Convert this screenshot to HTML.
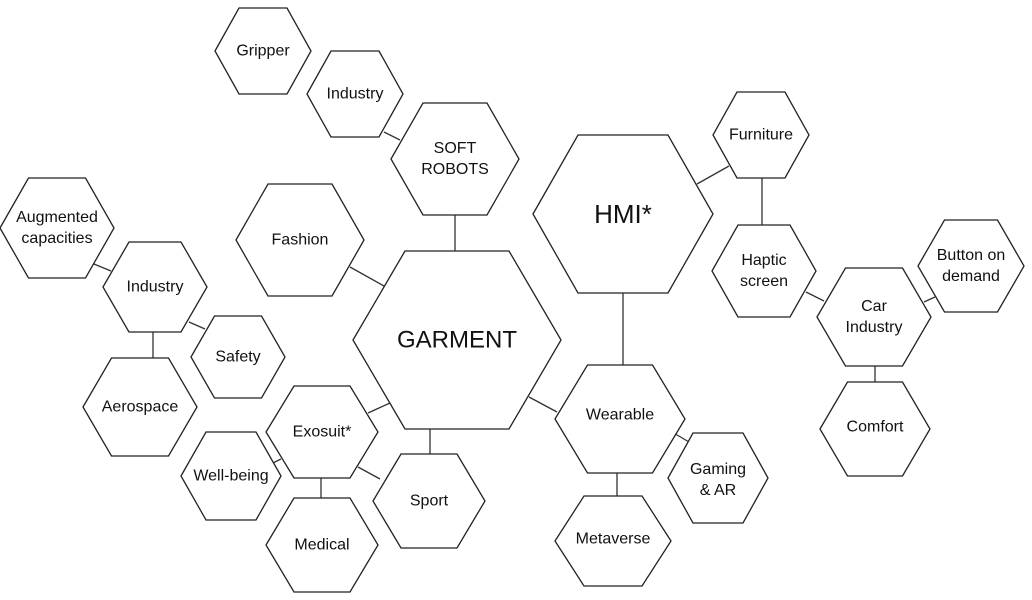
<!DOCTYPE html>
<html><head><meta charset="utf-8"><style>
html,body{margin:0;padding:0;background:#fff;}
svg{display:block;}
text{font-family:"Liberation Sans",sans-serif;fill:#111;text-anchor:middle;dominant-baseline:central;}
</style></head><body>
<svg id="s" width="1032" height="600" viewBox="0 0 1032 600" xmlns="http://www.w3.org/2000/svg">
<g stroke="#333" stroke-width="1.3" fill="none">
<line x1="455" y1="215" x2="455" y2="251"/>
<line x1="350" y1="267" x2="384" y2="286"/>
<line x1="368" y1="413" x2="390" y2="403"/>
<line x1="430" y1="429" x2="430" y2="454"/>
<line x1="529" y1="397" x2="557" y2="412"/>
<line x1="623" y1="293" x2="623" y2="365"/>
<line x1="697" y1="184" x2="729" y2="166"/>
<line x1="762" y1="178" x2="762" y2="225"/>
<line x1="806" y1="292" x2="824" y2="301"/>
<line x1="924" y1="302" x2="935" y2="297"/>
<line x1="875" y1="366" x2="875" y2="383"/>
<line x1="672" y1="432" x2="689" y2="442"/>
<line x1="617" y1="473" x2="617" y2="497"/>
<line x1="273" y1="463" x2="281" y2="459"/>
<line x1="321" y1="478" x2="321" y2="499"/>
<line x1="358" y1="467" x2="380" y2="479"/>
<line x1="384" y1="132" x2="400" y2="140"/>
<line x1="94" y1="264" x2="111" y2="271"/>
<line x1="189" y1="322" x2="205" y2="329"/>
<line x1="153" y1="332" x2="153" y2="358"/>
</g>
<g id="hex" stroke="#222" stroke-width="1.3" fill="#fff"></g>
<g id="txt"></g>
</svg>
<script>
var H=[
[457,340,104,89,["GARMENT"],24,0],
[623,214,90,79,["HMI*"],26,0],
[455,159,64,56,["SOFT","ROBOTS"],16,0],
[300,240,64,56,["Fashion"],16,0],
[263,51,48,43,["Gripper"],16,0],
[355,94,48,43,["Industry"],16,0],
[57,228,57,50,["Augmented","capacities"],16,0],
[155,287,52,45,["Industry"],16,0],
[238,357,47,41,["Safety"],16,0],
[140,407,57,49,["Aerospace"],16,0],
[322,432,56,46,["Exosuit*"],16,0],
[231,476,50,44,["Well-being"],16,0],
[429,501,56,47,["Sport"],16,0],
[322,545,56,47,["Medical"],16,0],
[620,419,65,54,["Wearable"],16,-4],
[613,541,58,45,["Metaverse"],16,-2],
[718,478,50,45,["Gaming","& AR"],16,2],
[761,135,48,43,["Furniture"],16,0],
[764,271,52,46,["Haptic","screen"],16,0],
[874,317,57,49,["Car","Industry"],16,0],
[971,266,53,46,["Button on","demand"],16,0],
[875,429,55,47,["Comfort"],16,-2]
];
var ns="http://www.w3.org/2000/svg",g=document.getElementById("hex"),t=document.getElementById("txt");
H.forEach(function(h){var x=h[0],y=h[1],r=h[2],k=h[3],w=r/2;
var p=document.createElementNS(ns,"polygon");
p.setAttribute("points",[(x-r)+","+y,(x-w)+","+(y-k),(x+w)+","+(y-k),(x+r)+","+y,(x+w)+","+(y+k),(x-w)+","+(y+k)].join(" "));
g.appendChild(p);
var L=h[4],fs=h[5],lh=fs*1.3,dy=h[6];
L.forEach(function(s,i){var e=document.createElementNS(ns,"text");
e.setAttribute("x",x);e.setAttribute("y",y+dy+(i-(L.length-1)/2)*lh);
e.setAttribute("font-size",fs);e.textContent=s;t.appendChild(e);});
});
</script>
</body></html>
